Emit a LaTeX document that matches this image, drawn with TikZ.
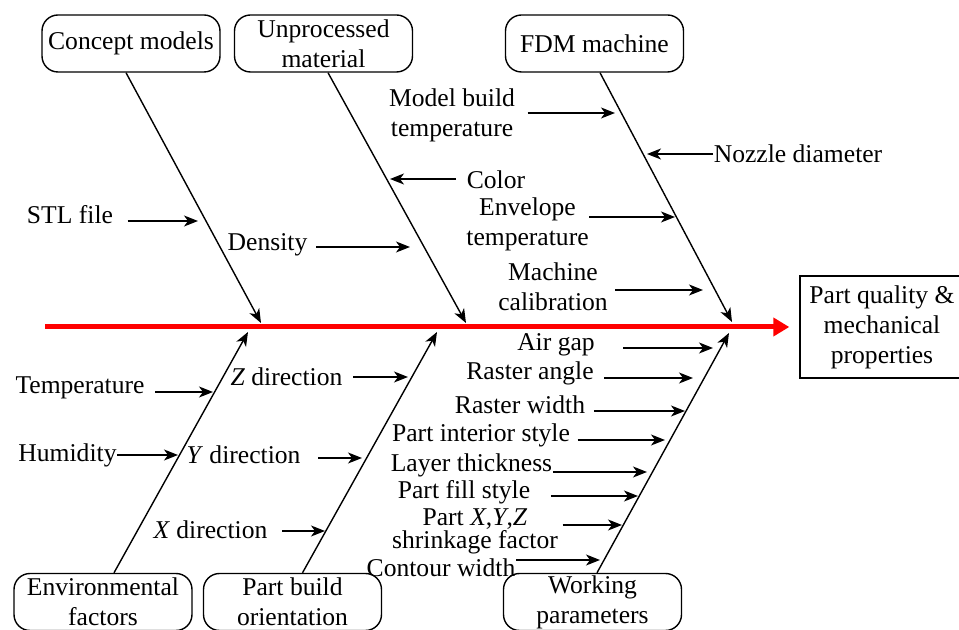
\documentclass[tikz,border=0pt]{standalone}
\usepackage{fontspec}
\setmainfont{Liberation Serif}
\usetikzlibrary{arrows.meta}

\begin{document}
\begin{tikzpicture}[x=0.5pt,y=-0.5pt,line width=0.7pt,
  >={Stealth[length=7pt,width=5.5pt,inset=2pt]},
  font=\fontsize{12.8}{15}\selectfont,
  cause/.style={draw,rounded corners=8pt,minimum width=89pt,minimum height=28.5pt,align=center,inner sep=0pt},
  effect/.style={draw,minimum width=82pt,minimum height=51pt,align=center,inner sep=0pt},
  lbl/.style={inner sep=0pt,align=center},
  spine/.style={red,line width=2.5pt,-{Triangle[length=8pt,width=9pt]}}]
\useasboundingbox (0,0) rectangle (959,630);
% main categories
\node[cause] (concept) at (131,43.5) {Concept models};
\node[cause] (unproc) at (323.5,43.5) {Unprocessed\\material};
\node[cause] (fdm) at (594.5,43.5) {FDM machine};
\node[cause] (env) at (103,602) {Environmental\\factors};
\node[cause] (build) at (292.5,602) {Part build\\orientation};
\node[cause] (work) at (592.5,602) {Working\\parameters};
\node[effect] (result) at (882,327) {Part quality \&\\mechanical\\properties};
% spine
\coordinate (tail) at (45,327);
\draw[spine,shorten >=5pt] (tail) -- (result);
% bones
\coordinate (conceptTip) at (261,323);
\coordinate (unprocTip) at (466,323);
\coordinate (fdmTip) at (732,322);
\coordinate (envTip) at (248,332);
\coordinate (buildTip) at (437,332);
\coordinate (workTip) at (729,333);
\draw[->] ([xshift=-2.5pt]concept.south) -- (conceptTip);
\draw[->] ([xshift=2.25pt]unproc.south) -- (unprocTip);
\draw[->] ([xshift=2.75pt]fdm.south) -- (fdmTip);
\draw[->] ([xshift=5.5pt]env.north) -- (envTip);
\draw[->] ([xshift=5pt]build.north) -- (buildTip);
\draw[->] ([xshift=2.25pt]work.north) -- (workTip);
% upper causes
\node[lbl] (stl) at (70,215) {STL file};
\node[lbl] (density) at (267.5,245) {Density};
\node[lbl] (color) at (496,180) {Color};
\node[lbl] (model) at (452,115) {Model build\\temperature};
\node[lbl] (nozzle) at (798,154) {Nozzle diameter};
\node[lbl] (envelope) at (527.5,224) {Envelope\\temperature};
\node[lbl] (machine) at (553,287) {Machine\\calibration};
\coordinate (stlTip) at (198,221);
\coordinate (densityTip) at (410,247);
\coordinate (colorTip) at (390,179);
\coordinate (modelTip) at (615,113);
\coordinate (nozzleTip) at (647,154);
\coordinate (envelopeTip) at (675,217);
\coordinate (machineTip) at (703,290);
\draw[->,shorten <=7pt] (stl.east |- stlTip) -- (stlTip);
\draw[->,shorten <=4pt] (density.east |- densityTip) -- (densityTip);
\draw[->,shorten <=5pt] (color.west |- colorTip) -- (colorTip);
\draw[->,shorten <=6pt] (model.east |- modelTip) -- (modelTip);
\draw[->] (nozzle.west |- nozzleTip) -- (nozzleTip);
\draw[->] (envelope.east |- envelopeTip) -- (envelopeTip);
\draw[->,shorten <=3.5pt] (machine.east |- machineTip) -- (machineTip);
% lower causes
\node[lbl] (temp) at (80,388) {Temperature};
\node[lbl] (zdir) at (286.5,377) {\textit{Z} direction};
\node[lbl] (humid) at (67.5,455) {Humidity};
\node[lbl] (ydir) at (243.5,455) {\textit{Y} direction};
\node[lbl] (xdir) at (210.5,530) {\textit{X} direction};
\coordinate (tempTip) at (213,392);
\coordinate (zTip) at (408,377);
\coordinate (humidTip) at (178,455);
\coordinate (yTip) at (362,458);
\coordinate (xTip) at (325,531);
\draw[->,shorten <=5pt] (temp.east |- tempTip) -- (tempTip);
\draw[->,shorten <=5pt] (zdir.east |- zTip) -- (zTip);
\draw[->] (humid.east |- humidTip) -- (humidTip);
\draw[->,shorten <=8.5pt] (ydir.east |- yTip) -- (yTip);
\draw[->,shorten <=7pt] (xdir.east |- xTip) -- (xTip);
% working parameters
\node[lbl] (airgap) at (556,345) {Air gap};
\node[lbl] (rangle) at (530,373) {Raster angle};
\node[lbl] (rwidth) at (520,405) {Raster width};
\node[lbl] (interior) at (481,435) {Part interior style};
\node[lbl] (layer) at (471.5,465) {Layer thickness};
\node[lbl] (fill) at (464,492) {Part fill style};
\node[lbl,font=\fontsize{12.8}{11.5}\selectfont] (shrink) at (475,531) {Part \textit{X},\textit{Y},\textit{Z}\\shrinkage factor};
\node[lbl] (contour) at (441,568) {Contour width};
\coordinate (airTip) at (713,348);
\coordinate (rangleTip) at (693,378);
\coordinate (rwidthTip) at (685,411);
\coordinate (interiorTip) at (665,440);
\coordinate (layerTip) at (647,472);
\coordinate (fillTip) at (638,496);
\coordinate (shrinkTip) at (622,525);
\coordinate (contourTip) at (600,560);
\draw[->,shorten <=14pt] (airgap.east |- airTip) -- (airTip);
\draw[->,shorten <=5pt] (rangle.east |- rangleTip) -- (rangleTip);
\draw[->,shorten <=4pt] (rwidth.east |- rwidthTip) -- (rwidthTip);
\draw[->,shorten <=3.5pt] (interior.east |- interiorTip) -- (interiorTip);
\draw[->] (layer.east |- layerTip) -- (layerTip);
\draw[->,shorten <=10pt] (fill.east |- fillTip) -- (fillTip);
\draw[->,shorten <=2pt] (shrink.east |- shrinkTip) -- (shrinkTip);
\draw[->] (contour.east |- contourTip) -- (contourTip);
\end{tikzpicture}
\end{document}
